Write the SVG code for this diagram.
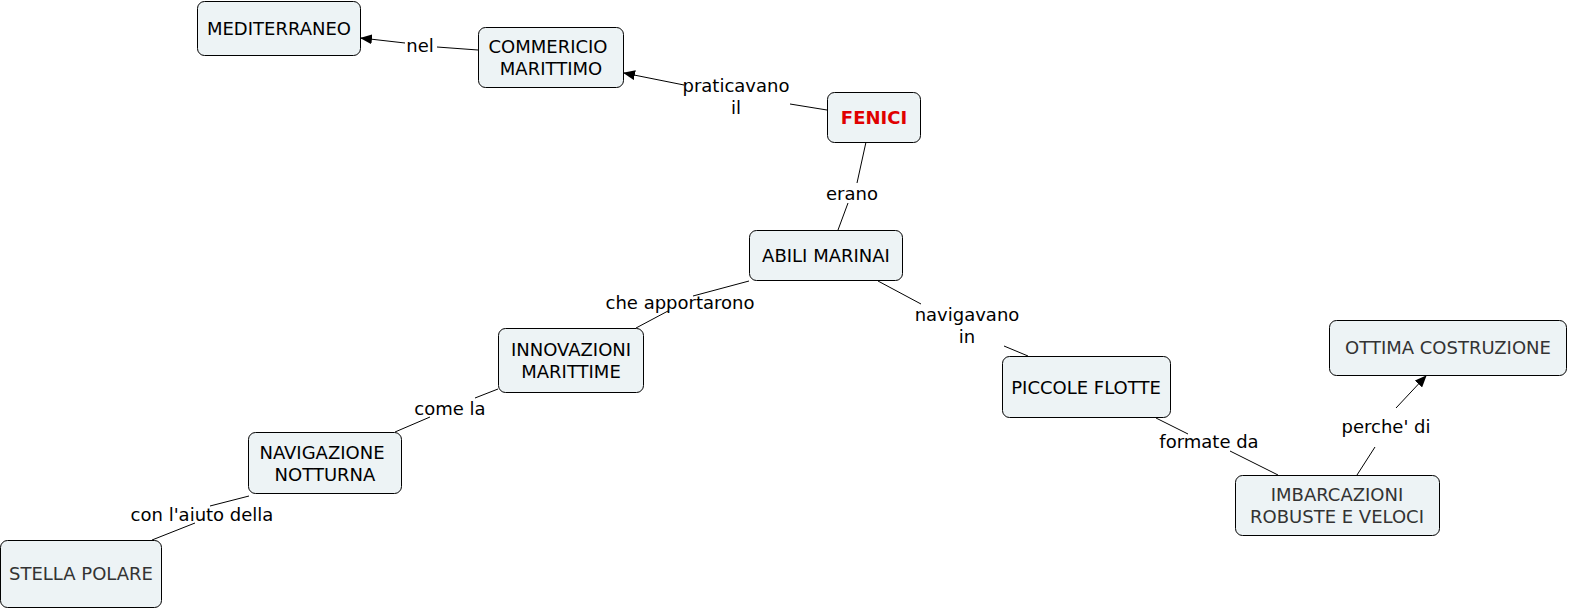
<svg xmlns="http://www.w3.org/2000/svg" width="1569" height="610" viewBox="0 0 1569 610">
<defs>
<marker id="arr" viewBox="0 0 12 10" refX="11" refY="5" markerWidth="12" markerHeight="10" markerUnits="userSpaceOnUse" orient="auto">
<path d="M0,0 L12,5 L0,10 z" fill="#000"/>
</marker>
<style>
.n rect{fill:#edf3f5;stroke:#000;stroke-width:1}
.n text{font-family:"DejaVu Sans",Verdana,sans-serif;font-size:18px;text-anchor:middle;fill:#000}
.n text.g{fill:#333}
.c line{stroke:#000;stroke-width:1;fill:none}
.c line.a{marker-end:url(#arr)}
.c text{font-family:"DejaVu Sans",Verdana,sans-serif;font-size:18px;text-anchor:middle;fill:#000}
</style>
</defs>
<rect width="1569" height="610" fill="#fff"/>
<g id="connectors" class="c">
<line x1="478" y1="50" x2="437" y2="47"/>
<line class="a" x1="405" y1="43" x2="361" y2="38"/>
<text x="420" y="52">nel</text>
<line x1="827" y1="110" x2="790" y2="104"/>
<line class="a" x1="684" y1="85" x2="624" y2="73"/>
<text x="736" y="92">praticavano</text>
<text x="736" y="114">il</text>
<line x1="866" y1="142" x2="857" y2="183"/>
<line x1="848" y1="203" x2="838" y2="230"/>
<text x="852" y="200">erano</text>
<line x1="749" y1="281" x2="693" y2="296"/>
<line x1="668" y1="311" x2="636" y2="328"/>
<text x="680" y="309">che apportarono</text>
<line x1="878" y1="281" x2="921" y2="304"/>
<line x1="1004" y1="346" x2="1028" y2="356"/>
<text x="967" y="321">navigavano</text>
<text x="967" y="343">in</text>
<line x1="498" y1="389" x2="475" y2="398"/>
<line x1="430" y1="417" x2="395" y2="432"/>
<text x="450" y="415">come la</text>
<line x1="249" y1="496" x2="210" y2="506"/>
<line x1="195" y1="523" x2="152" y2="540"/>
<text x="202" y="521">con l'aiuto della</text>
<line x1="1156" y1="418" x2="1188" y2="434"/>
<line x1="1230" y1="451" x2="1278" y2="475"/>
<text x="1209" y="448">formate da</text>
<line x1="1357" y1="475" x2="1375" y2="447"/>
<line class="a" x1="1396" y1="408" x2="1426" y2="376"/>
<text x="1386" y="433">perche' di</text>
</g>
<g id="mediterraneo" class="n"><rect x="197.5" y="1.5" width="163" height="54" rx="7"/><text x="279" y="35">MEDITERRANEO</text></g>
<g id="commericio" class="n"><rect x="478.5" y="27.5" width="145" height="60" rx="7"/><text x="548" y="53">COMMERICIO</text><text x="551" y="75">MARITTIMO</text></g>
<g id="fenici" class="n"><rect x="827.5" y="92.5" width="93" height="50" rx="7"/><text x="874" y="124" style="fill:#e00000;font-weight:bold">FENICI</text></g>
<g id="abili" class="n"><rect x="749.5" y="230.5" width="153" height="50" rx="7"/><text x="826" y="262">ABILI MARINAI</text></g>
<g id="innovazioni" class="n"><rect x="498.5" y="328.5" width="145" height="64" rx="7"/><text x="571" y="356">INNOVAZIONI</text><text x="571" y="378">MARITTIME</text></g>
<g id="navigazione" class="n"><rect x="248.5" y="432.5" width="153" height="61" rx="7"/><text x="322" y="459">NAVIGAZIONE</text><text x="325" y="481">NOTTURNA</text></g>
<g id="stella" class="n"><rect x="0.5" y="540.5" width="161" height="67" rx="7"/><text class="g" x="81" y="580">STELLA POLARE</text></g>
<g id="piccole" class="n"><rect x="1002.5" y="356.5" width="168" height="61" rx="7"/><text x="1086" y="394">PICCOLE FLOTTE</text></g>
<g id="imbarcazioni" class="n"><rect x="1235.5" y="475.5" width="204" height="60" rx="7"/><text class="g" x="1337" y="501">IMBARCAZIONI</text><text class="g" x="1337" y="523">ROBUSTE E VELOCI</text></g>
<g id="ottima" class="n"><rect x="1329.5" y="320.5" width="237" height="55" rx="7"/><text class="g" x="1448" y="354">OTTIMA COSTRUZIONE</text></g>
</svg>
